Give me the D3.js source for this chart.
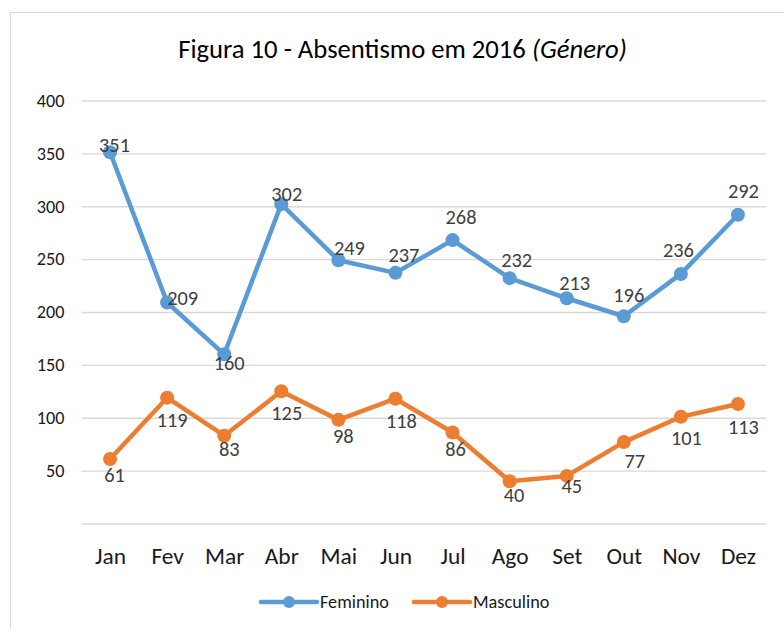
<!DOCTYPE html>
<html><head><meta charset="utf-8">
<script src="https://cdn.jsdelivr.net/npm/d3@7"></script>
<style>
body{margin:0;background:#fff;}
svg{display:block;font-family:Carlito,Calibri,Lato,sans-serif;}
</style></head>
<body><svg id="c" width="784" height="629"></svg>
<script>
const months = ["Jan","Fev","Mar","Abr","Mai","Jun","Jul","Ago","Set","Out","Nov","Dez"];
const feminino = [351,209,160,302,249,237,268,232,213,196,236,292];
const masculino = [61,119,83,125,98,118,86,40,45,77,101,113];
const yTicks = [0,50,100,150,200,250,300,350,400];
const seriesNames = ["Feminino","Masculino"];
const colors = ["#5B9BD5","#ED7D31"];
// label offsets (dx, dy baseline) relative to each point
const femLabelDx = [4.5,15.5,5,5.5,11,8.5,8.5,7,8,5,-2.5,5.5];
const femLabelDy = [-0.6,2.5,15.7,-3,-5,-11,-16,-11,-8,-14,-17,-16.7];
const mascLabelDx = [4.5,5,5,5.5,5,6,3,4.5,5,11,5.5,5.5];
const mascLabelDy = [22.7,29,20,28.7,23.4,29.6,23.4,20.5,17.4,26,28.3,30];

const svg = d3.select("#c");
svg.append("rect").attr("x",10.5).attr("y",12.5).attr("width",800).attr("height",700)
  .attr("fill","#fff").attr("stroke","#d9d9d9").attr("stroke-width",1);

// pick a font size so a sample string spans the width seen in the reference
function fitSize(sample, target, italicPart){
  const tmp = svg.append("text").attr("font-size",20);
  tmp.append("tspan").text(sample);
  if (italicPart) tmp.append("tspan").attr("font-style","italic").text(italicPart);
  const w = tmp.node().getComputedTextLength();
  tmp.remove();
  return 20*target/w;
}
const titleSize = fitSize("Figura 10 - Absentismo em 2016 ", 449, "(Género)");
const yTickSize = fitSize("400", 27.7);
const xTickSize = fitSize("Jan", 31);
const labelSize = fitSize("351", 31);
const legendSize = fitSize("Feminino", 69);

const x = d3.scalePoint().domain(months).range([81.5,766.5]).padding(0.5);
const y = d3.scaleLinear().domain([0,400]).range([523.5,100.5]);

// title
const t = svg.append("text").attr("x",402.5).attr("y",58).attr("text-anchor","middle")
  .attr("font-size",titleSize).attr("fill","#000");
t.append("tspan").text("Figura 10 - Absentismo em 2016 ");
t.append("tspan").attr("font-style","italic").text("(Género)");

// y axis + grid
const ya = svg.append("g").attr("transform","translate(81.5,0)")
  .call(d3.axisLeft(y).tickValues(yTicks).tickSize(-685).tickPadding(17).tickFormat(d=>d===0?"":d));
ya.attr("font-family",null).attr("font-size",yTickSize);
ya.select(".domain").remove();
ya.selectAll(".tick line").attr("stroke","#d9d9d9").attr("stroke-width",1.3);
ya.selectAll(".tick text").attr("fill","#1a1a1a");

// x axis labels
const xa = svg.append("g").attr("transform","translate(0,523.5)")
  .call(d3.axisBottom(x).tickSize(0).tickPadding(24));
xa.attr("font-family",null).attr("font-size",xTickSize);
xa.select(".domain").remove();
xa.selectAll(".tick text").attr("fill","#1a1a1a");

const series = [feminino, masculino];
const dxs = [femLabelDx, mascLabelDx], dys = [femLabelDy, mascLabelDy];
const line = d3.line().x((d,i)=>x(months[i])).y(d=>y(d));
series.forEach((s,k)=>{
  const g = svg.append("g");
  g.append("path").datum(s).attr("d",line).attr("fill","none")
    .attr("stroke",colors[k]).attr("stroke-width",4.5).attr("stroke-linejoin","round").attr("stroke-linecap","round");
  g.selectAll("circle").data(s).join("circle")
    .attr("cx",(d,i)=>x(months[i])).attr("cy",d=>y(d)).attr("r",7).attr("fill",colors[k]);
  g.selectAll("text").data(s).join("text")
    .attr("x",(d,i)=>x(months[i])+dxs[k][i]).attr("y",(d,i)=>y(d)+dys[k][i])
    .attr("text-anchor","middle").attr("font-size",labelSize).attr("fill","#404040").text(d=>d);
});

// legend
const legX = [261,414];
seriesNames.forEach((n,k)=>{
  const g = svg.append("g").attr("transform",`translate(${legX[k]},602)`);
  g.append("line").attr("x1",0).attr("x2",56).attr("stroke",colors[k]).attr("stroke-width",4.5).attr("stroke-linecap","round");
  g.append("circle").attr("cx",28).attr("r",6).attr("fill",colors[k]);
  g.append("text").attr("x",59).attr("y",6).attr("font-size",legendSize).attr("fill","#1a1a1a").text(n);
});
</script></body></html>
